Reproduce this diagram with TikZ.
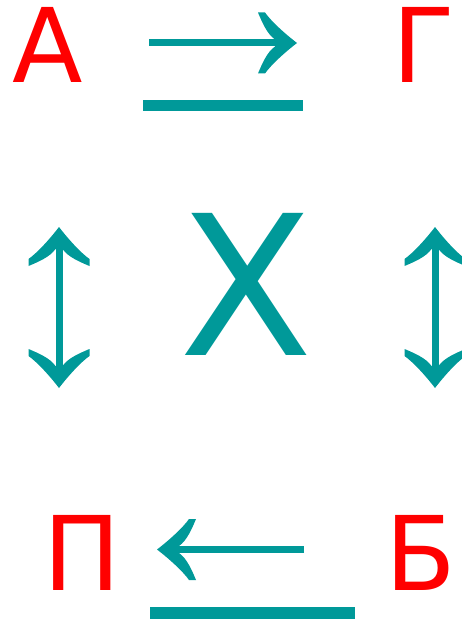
\documentclass[tikz,border=0pt]{standalone}
\usepackage{fontspec}
\setmainfont{DejaVu Sans}
\definecolor{cred}{HTML}{FF0000}
\definecolor{cteal}{HTML}{009999}
\tikzset{
  every node/.style={inner sep=0pt, outer sep=0pt},
  letter/.style={text=cred, font=\fontsize{103}{103}\selectfont, anchor=base},
  bigletter/.style={text=cteal, font=\fontsize{195}{195}\selectfont, anchor=base},
  shaft/.style={draw=cteal, line width=7pt},
  bar/.style={fill=cteal, draw=none},
  arrowtip/.pic={
    \fill[cteal] (0,0) .. controls (-13,-10) and (-26,-22) .. (-32,-30.5)
      -- (-39,-30.5) .. controls (-35,-21) and (-30,-9) .. (-22,-3.5)
      -- (-22,3.5) .. controls (-30,9) and (-35,21) .. (-39,30.5)
      -- (-32,30.5) .. controls (-26,22) and (-13,10) .. cycle;
  },
}
\begin{document}
\begin{tikzpicture}[x=1pt, y=-1pt]
  \useasboundingbox (0,0) rectangle (462,620);
  % corner letters
  \node[letter] (a) at (48,83) {А};
  \node[letter] (g) at (424,83) {Г};
  \node[letter] (p) at (82,590) {П};
  \node[letter] (b) at (421,590) {Б};
  \node[bigletter] (x) at (246,355) {Х};
  % arrow ends
  \coordinate (top1) at (149,43);
  \coordinate (top2) at (297,43);
  \coordinate (bot1) at (304,549.5);
  \coordinate (bot2) at (157,549.5);
  \coordinate (lft1) at (59,227);
  \coordinate (lft2) at (59,388);
  \coordinate (rgt1) at (435,227);
  \coordinate (rgt2) at (435,388);
  % arrows
  \draw[shaft, shorten >=21pt] (top1) -- (top2);
  \pic at (top2) {arrowtip};
  \draw[shaft, shorten >=21pt] (bot1) -- (bot2);
  \pic[rotate=180] at (bot2) {arrowtip};
  \draw[shaft, shorten <=21pt, shorten >=21pt] (lft1) -- (lft2);
  \pic[rotate=90] at (lft1) {arrowtip};
  \pic[rotate=-90] at (lft2) {arrowtip};
  \draw[shaft, shorten <=21pt, shorten >=21pt] (rgt1) -- (rgt2);
  \pic[rotate=90] at (rgt1) {arrowtip};
  \pic[rotate=-90] at (rgt2) {arrowtip};
  % bars under the arrows
  \fill[bar] (143,100) rectangle (303,111);
  \fill[bar] (150,607) rectangle (355,619);
\end{tikzpicture}
\end{document}
